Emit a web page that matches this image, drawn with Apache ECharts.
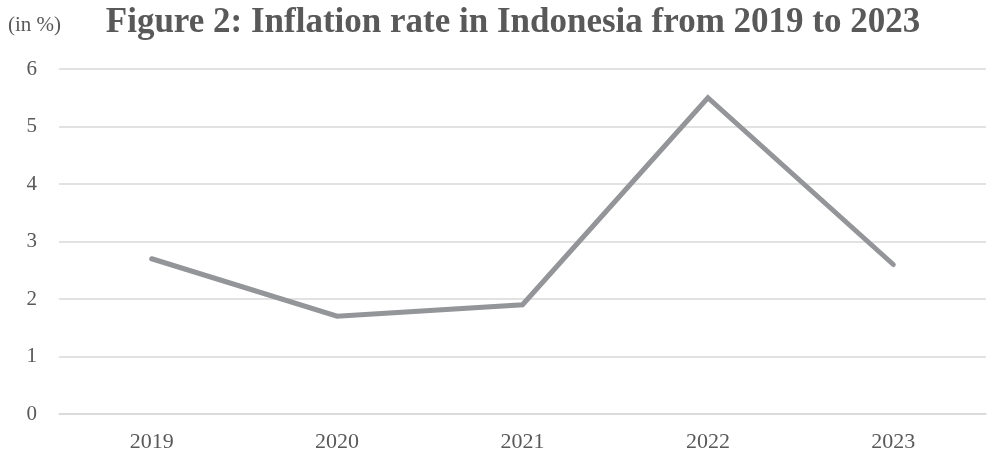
<!DOCTYPE html>
<html>
<head>
<meta charset="utf-8">
<script src="https://cdn.jsdelivr.net/npm/echarts@6/dist/echarts.min.js"></script>
<style>
  html, body { margin: 0; padding: 0; background: #ffffff; }
  #chart { width: 988px; height: 454px; }
</style>
</head>
<body>
<div id="chart"></div>
<script>
// Annual inflation rate, percent
const years = ['2019', '2020', '2021', '2022', '2023'];
const inflation = [2.7, 1.7, 1.9, 5.5, 2.6];
const yTicks = [0, 1, 2, 3, 4, 5, 6];

const serif = '"Liberation Serif", "Times New Roman", serif';
const chart = echarts.init(document.getElementById('chart'), null, { renderer: 'canvas' });

chart.setOption({
  backgroundColor: '#ffffff',
  animation: false,
  title: [
    {
      text: 'Figure 2: Inflation rate in Indonesia from 2019 to 2023',
      left: 508,
      top: 0,
      textAlign: 'center',
      textStyle: { fontFamily: serif, fontWeight: 'bold', fontSize: 35, color: '#595959' }
    },
    {
      text: '(in %)',
      left: 3,
      top: 10,
      textStyle: { fontFamily: serif, fontWeight: 'normal', fontSize: 21, color: '#595959' }
    }
  ],
  grid: { left: 59, right: 2, top: 69, bottom: 40, containLabel: false },
  xAxis: {
    type: 'category',
    data: years,
    boundaryGap: true,
    axisLine: { show: true, lineStyle: { color: '#d9d9d9', width: 1.5 } },
    axisTick: { show: false },
    axisLabel: { fontFamily: serif, fontSize: 22, color: '#595959', margin: 17 }
  },
  yAxis: {
    type: 'value',
    min: yTicks[0],
    max: yTicks[yTicks.length - 1],
    interval: 1,
    axisLine: { show: false },
    axisTick: { show: false },
    axisLabel: { fontFamily: serif, fontSize: 21, color: '#595959', margin: 22 },
    splitLine: { show: true, lineStyle: { color: '#d9d9d9', width: 1.5 } }
  },
  series: [
    {
      type: 'line',
      data: inflation,
      symbol: 'none',
      lineStyle: { color: '#939598', width: 5, cap: 'round', join: 'miter' }
    }
  ]
});
</script>
</body>
</html>
